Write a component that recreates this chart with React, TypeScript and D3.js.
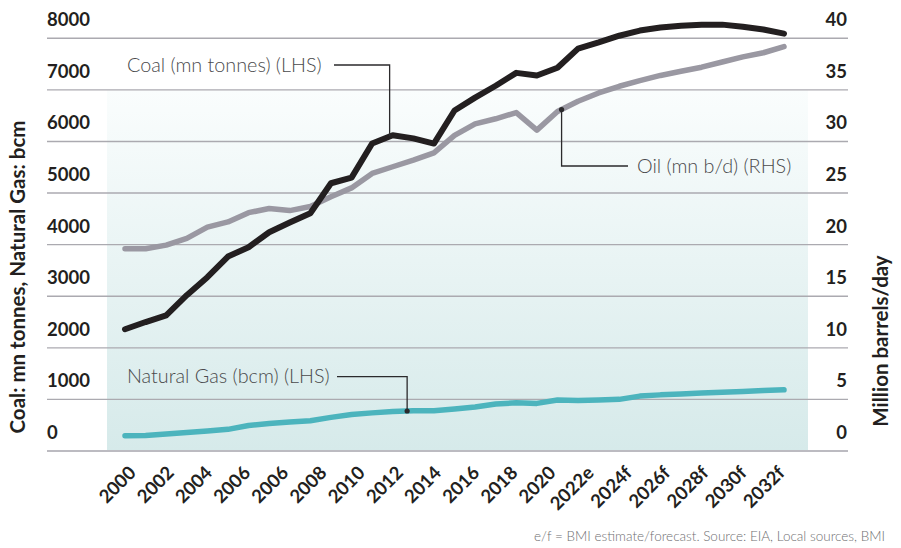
import React from 'react';
import * as d3 from 'd3';

const years = [
  2000, 2001, 2002, 2003, 2004, 2005, 2006, 2007, 2008, 2009, 2010,
  2011, 2012, 2013, 2014, 2015, 2016, 2017, 2018, 2019, 2020, 2021,
  2022, 2023, 2024, 2025, 2026, 2027, 2028, 2029, 2030, 2031, 2032,
];

// mn tonnes (LHS)
const coal = [
  2360, 2500, 2630, 3020, 3370, 3770, 3950, 4240, 4430, 4610, 5190,
  5300, 5960, 6120, 6060, 5960, 6600, 6850, 7080, 7330, 7280, 7430,
  7800, 7920, 8050, 8150, 8210, 8245, 8265, 8265, 8225, 8170, 8090,
];

// mn b/d (RHS)
const oil = [
  19.6, 19.6, 19.95, 20.6, 21.7, 22.2, 23.1, 23.5, 23.3, 23.7, 24.65,
  25.5, 26.9, 27.55, 28.2, 28.9, 30.6, 31.7, 32.2, 32.8, 31.1, 32.9,
  33.9, 34.7, 35.35, 35.9, 36.4, 36.8, 37.2, 37.7, 38.2, 38.6, 39.2,
];

// bcm (LHS)
const gas = [
  296, 300, 329, 358, 387, 420, 494, 532, 561, 586, 652,
  706, 739, 764, 780, 780, 813, 852, 910, 933, 923, 987,
  981, 987, 1001, 1064, 1088, 1103, 1123, 1138, 1155, 1171, 1186,
];

const xLabels = [
  '2000', '2002', '2004', '2006', '2006', '2008', '2010', '2012', '2014',
  '2016', '2018', '2020', '2022e', '2024f', '2026f', '2028f', '2030f', '2032f',
];

const leftTicks = [0, 1000, 2000, 3000, 4000, 5000, 6000, 7000, 8000];
const rightTicks = [0, 5, 10, 15, 20, 25, 30, 35, 40];

const W = 901;
const H = 548;
const FONT = 'Lato, "Open Sans", sans-serif';

export default function App() {
  const x = d3.scaleLinear().domain([0, years.length - 1]).range([125, 784]);
  const yL = d3.scaleLinear().domain([0, 8000]).range([451, 38.3]);
  const yR = d3.scaleLinear().domain([0, 40]).range([451, 38.3]);
  const xl = d3.scaleLinear().domain([0, xLabels.length - 1]).range([137, 786]);

  const lineL = d3.line<number>().x((_, i) => x(i)).y((d) => yL(d));
  const lineR = d3.line<number>().x((_, i) => x(i)).y((d) => yR(d));

  // value along a series at a fractional index
  const at = (arr: number[], t: number) => {
    const i = Math.floor(t);
    const f = t - i;
    return arr[i] + (arr[Math.min(i + 1, arr.length - 1)] - arr[i]) * f;
  };

  const coalDot = { x: x(12.85), y: yL(at(coal, 12.85)) };
  const oilDot = { x: x(21.2), y: yR(at(oil, 21.2)) };
  const gasDot = { x: x(13.7), y: yL(at(gas, 13.7)) };

  const labelColor = '#4a4a4c';
  const leader = '#2b2a2c';

  return (
    <svg width={W} height={H} style={{ position: 'absolute', left: 0, top: 0, background: '#fff' }}
      fontFamily={FONT}>
      <defs>
        <linearGradient id="bg" x1="0" y1="0" x2="0" y2="1">
          <stop offset="0%" stopColor="#fafdfd" />
          <stop offset="100%" stopColor="#d6eaea" />
        </linearGradient>
      </defs>
      <rect x={107} y={yL(7000)} width={701} height={yL(0) - yL(7000)} fill="url(#bg)" />

      {leftTicks.map((t) => (
        <line key={'g' + t} x1={47} x2={848} y1={yL(t)} y2={yL(t)}
          stroke={t === 0 ? '#bcbbc1' : '#abaab0'} strokeWidth={t === 0 ? 2 : 1.4} />
      ))}

      {leftTicks.map((t) => (
        <text key={'l' + t} x={47} y={yL(t) - 12} fontSize={18.5} fontWeight={700} fill="#231f20">
          {t}
        </text>
      ))}
      {rightTicks.map((t) => (
        <text key={'r' + t} x={847} y={yR(t) - 12} fontSize={18.5} fontWeight={700} fill="#231f20"
          textAnchor="end">
          {t}
        </text>
      ))}

      <text transform="translate(25,277) rotate(-90)" textAnchor="middle" fontSize={20.5}
        fontWeight={700} fill="#231f20">
        Coal: mn tonnes, Natural Gas: bcm
      </text>
      <text transform="translate(888,341) rotate(-90)" textAnchor="middle" fontSize={20.5}
        fontWeight={700} fill="#231f20">
        Million barrels/day
      </text>

      {xLabels.map((l, i) => (
        <text key={'x' + i} transform={`translate(${xl(i)},474) rotate(-45)`} textAnchor="end"
          fontSize={18.5} fontWeight={700} fill="#231f20">
          {l}
        </text>
      ))}

      <path d={lineL(gas) || ''} fill="none" stroke="#4cb4bd" strokeWidth={5.5}
        strokeLinecap="round" strokeLinejoin="round" />
      <path d={lineR(oil) || ''} fill="none" stroke="#9a98a2" strokeWidth={5.5}
        strokeLinecap="round" strokeLinejoin="round" />
      <path d={lineL(coal) || ''} fill="none" stroke="#231f20" strokeWidth={6}
        strokeLinecap="round" strokeLinejoin="round" />

      {/* annotations */}
      <text x={127} y={71.5} fontSize={19.8} fontWeight={300} fill={labelColor}>
        Coal (mn tonnes) (LHS)
      </text>
      <polyline points={`334,65 ${coalDot.x},65 ${coalDot.x},${coalDot.y}`} fill="none"
        stroke={leader} strokeWidth={1.3} />

      <text x={637} y={173} fontSize={19.8} fontWeight={300} fill={labelColor}>
        Oil (mn b/d) (RHS)
      </text>
      <polyline points={`${oilDot.x},${oilDot.y} ${oilDot.x},166 628,166`} fill="none"
        stroke={leader} strokeWidth={1.3} />
      <circle cx={oilDot.x} cy={oilDot.y} r={2.6} fill={leader} />

      <text x={127} y={382.5} fontSize={19.8} fontWeight={300} fill={labelColor}>
        Natural Gas (bcm) (LHS)
      </text>
      <polyline points={`337,376.7 ${gasDot.x},376.7 ${gasDot.x},${gasDot.y}`} fill="none"
        stroke={leader} strokeWidth={1.3} />
      <circle cx={gasDot.x} cy={gasDot.y} r={2.6} fill={leader} />

      <text x={885} y={540.5} textAnchor="end" fontSize={13.5} fontWeight={300} fill="#6f6f72">
        e/f = BMI estimate/forecast. Source: EIA, Local sources, BMI
      </text>
    </svg>
  );
}
